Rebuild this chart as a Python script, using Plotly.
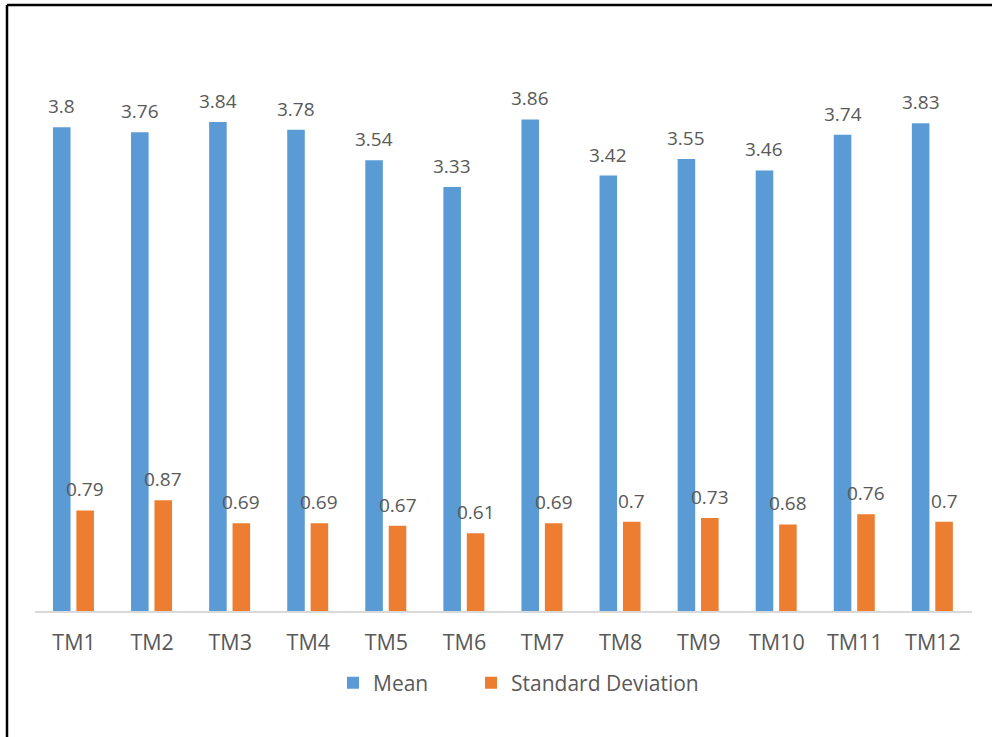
import plotly.graph_objects as go

categories = ["TM1", "TM2", "TM3", "TM4", "TM5", "TM6", "TM7", "TM8", "TM9", "TM10", "TM11", "TM12"]
mean_values = [3.8, 3.76, 3.84, 3.78, 3.54, 3.33, 3.86, 3.42, 3.55, 3.46, 3.74, 3.83]
sd_values = [0.79, 0.87, 0.69, 0.69, 0.67, 0.61, 0.69, 0.7, 0.73, 0.68, 0.76, 0.7]

BLUE = "#5B9BD5"
ORANGE = "#ED7D31"
TEXT = "#595959"
FONT = "Open Sans"

positions = list(range(len(categories)))
bar_w = 0.225
mean_off = -0.27
sd_off = 0.03

fig = go.Figure()
fig.add_trace(go.Bar(x=positions, y=mean_values, name="Mean", marker_color=BLUE,
                     width=bar_w, offset=mean_off, marker_line_width=0, legend="legend"))
fig.add_trace(go.Bar(x=positions, y=sd_values, name="Standard Deviation", marker_color=ORANGE,
                     width=bar_w, offset=sd_off, marker_line_width=0, legend="legend2"))

# value labels above each bar
annotations = []
for i, (m, s) in enumerate(zip(mean_values, sd_values)):
    for val, off in ((m, mean_off), (s, sd_off)):
        annotations.append(dict(x=i + off + bar_w / 2, y=val, xref="x", yref="y",
                                text=f"{val:g}", showarrow=False, yanchor="bottom",
                                yshift=6, font=dict(family=FONT, size=19, color=TEXT)))

# frame lines along the top and left edge
shapes = [
    dict(type="line", xref="paper", yref="paper", x0=(7 - 35) / 937, x1=1.1,
         y0=(611 - 5) / 573, y1=(611 - 5) / 573, line=dict(color="black", width=2.5)),
    dict(type="line", xref="paper", yref="paper", x0=(7 - 35) / 937, x1=(7 - 35) / 937,
         y0=(611 - 5) / 573, y1=-0.3, line=dict(color="black", width=2.5)),
]

legend_style = dict(orientation="h", xanchor="left", y=-0.1257, yanchor="middle",
                    font=dict(family=FONT, size=21, color=TEXT), itemwidth=30)

fig.update_layout(
    width=992, height=737,
    margin=dict(l=35, r=20, t=38, b=126),
    paper_bgcolor="white", plot_bgcolor="white",
    barmode="overlay",
    showlegend=True,
    legend=dict(x=(333 - 35) / 937, **legend_style),
    legend2=dict(x=(471 - 35) / 937, **legend_style),
    annotations=annotations,
    shapes=shapes,
    font=dict(family=FONT, color=TEXT),
)
fig.update_xaxes(range=[-0.5, len(categories) - 0.5], tickmode="array", tickvals=positions,
                 ticktext=categories, showgrid=False, showline=True, linecolor="#D9D9D9",
                 linewidth=1.5, ticks="", tickfont=dict(family=FONT, size=21.5, color=TEXT),
                 ticklabelstandoff=11, zeroline=False)
fig.update_yaxes(range=[0, 4.5], visible=False, showgrid=False, zeroline=False)

fig.write_html("out.html")
